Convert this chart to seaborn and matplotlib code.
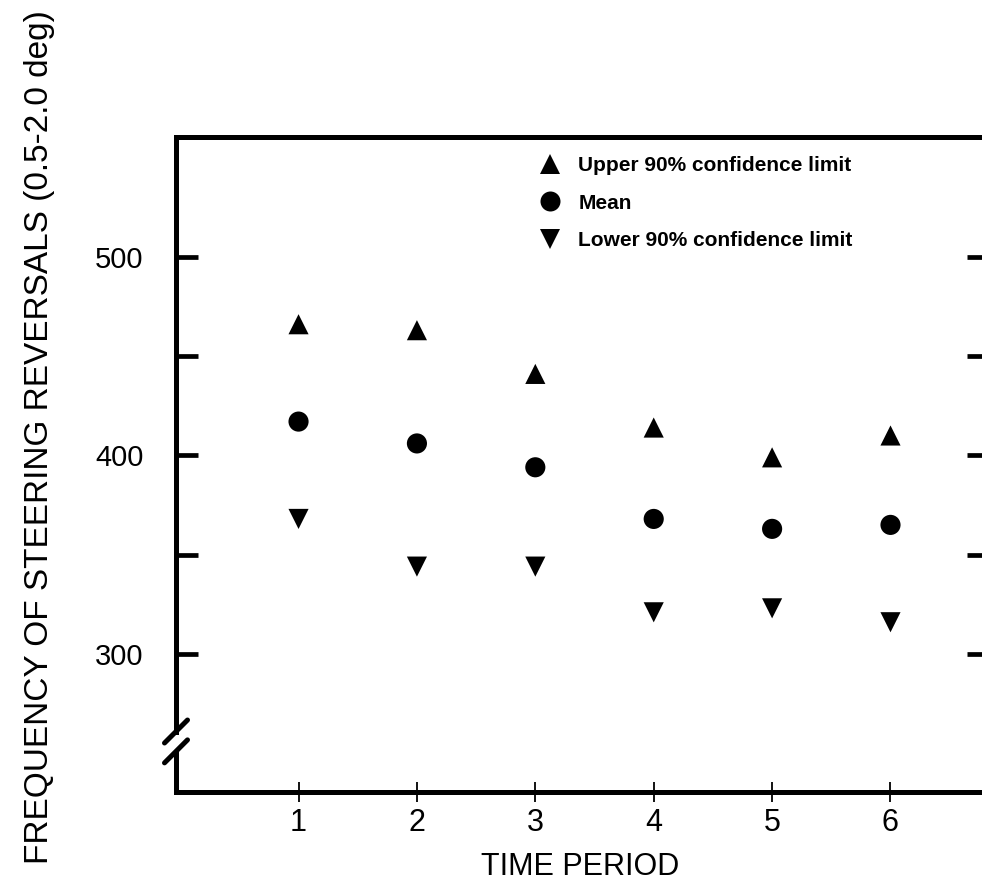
import matplotlib
matplotlib.use("Agg")
import matplotlib.pyplot as plt
import matplotlib.transforms as mtransforms
from matplotlib.lines import Line2D
import numpy as np
import pandas as pd
import seaborn as sns

# ---- data ----
periods = [1, 2, 3, 4, 5, 6]
upper = [466, 463, 441, 414, 399, 410]
mean = [417, 406, 394, 368, 363, 365]
lower = [368, 344, 344, 321, 323, 316]
series_names = ["Upper 90% confidence limit", "Mean", "Lower 90% confidence limit"]
x_ticks = [1, 2, 3, 4, 5, 6]
y_ticks = [300, 350, 400, 450, 500]
y_ticklabels = ["300", "", "400", "", "500"]

df = pd.DataFrame({
    "period": periods * 3,
    "value": upper + mean + lower,
    "series": [series_names[0]] * 6 + [series_names[1]] * 6 + [series_names[2]] * 6,
})

sns.set_theme(style="white")
plt.rcParams["font.family"] = ["Liberation Sans", "DejaVu Sans"]
plt.rcParams["text.color"] = "black"
plt.rcParams["axes.labelcolor"] = "black"
plt.rcParams["xtick.color"] = "black"
plt.rcParams["ytick.color"] = "black"

W, H = 982, 882
fig = plt.figure(figsize=(W / 100, H / 100), dpi=100)
ax_left, ax_right = 176, 989
ax_top, ax_bottom = 136.7, 791.7
ax = fig.add_axes([ax_left / W, 1 - ax_bottom / H, (ax_right - ax_left) / W, (ax_bottom - ax_top) / H])

markers = {series_names[0]: "^", series_names[1]: "o", series_names[2]: "v"}
sns.scatterplot(data=df, x="period", y="value", style="series", markers=markers,
                color="black", s=210, linewidth=0, ax=ax, legend=False, zorder=3)

ax.set_xlim(-0.035, 6.832)
ax.set_ylim(230.7, 560.4)

# spines
for sp in ["top", "bottom", "left"]:
    ax.spines[sp].set_visible(True)
    ax.spines[sp].set_linewidth(3.6)
    ax.spines[sp].set_color("black")
ax.spines["right"].set_visible(False)

# axis break on the left spine
brk_hi, brk_lo = 261.0, 251.0
ax.spines["left"].set_bounds(brk_hi, 560.4)
bt = mtransforms.blended_transform_factory(ax.transAxes, ax.transData)
ax.plot([0, 0], [230.7, brk_lo], transform=bt, color="black", lw=3.6,
        clip_on=False, solid_capstyle="butt")
dx = 11.5 / (ax_right - ax_left)
dy = 11.5 / 1.9865
for yb in (brk_hi, brk_lo):
    ax.plot([-dx, dx], [yb - dy, yb + dy], transform=bt, color="black", lw=3.6,
            clip_on=False, solid_capstyle="round")

# ticks
ax.set_xticks(x_ticks)
ax.set_xticklabels([str(t) for t in x_ticks])
ax.set_yticks(y_ticks)
ax.set_yticklabels(y_ticklabels)
ax.tick_params(axis="x", direction="inout", length=15, width=1.3, color="black",
               labelcolor="black", labelsize=22, pad=4.3, bottom=True, top=False)
ax.tick_params(axis="y", direction="in", length=15.8, width=3.4, color="black",
               labelcolor="black", labelsize=21, pad=23.5, left=True, right=True)

ax.set_xlabel("TIME PERIOD", fontsize=22, color="black")
ax.xaxis.label.set_verticalalignment("top")
ax.xaxis.set_label_coords(0.497, (ax_bottom - 852) / (ax_bottom - ax_top))
ax.set_ylabel("FREQUENCY OF STEERING REVERSALS (0.5-2.0 deg)", fontsize=24, color="black")
ax.yaxis.set_label_coords((55 - ax_left) / (ax_right - ax_left),
                          (ax_bottom - 437) / (ax_bottom - ax_top))

# legend
handles = [Line2D([], [], marker=markers[n], linestyle="", color="black",
                  markersize=14.4, markeredgewidth=0) for n in series_names]
fs = 15
leg = ax.legend(handles, series_names, loc="upper left",
                bbox_to_anchor=(539.6 / W, 1 - 156 / H), bbox_transform=fig.transFigure,
                frameon=False, borderpad=0, borderaxespad=0, handlelength=1.0,
                handletextpad=0.85, labelspacing=0.9, numpoints=1,
                prop={"size": fs, "weight": "bold"})
for t in leg.get_texts():
    t.set_color("black")

fig.savefig("out.png", dpi=100)
